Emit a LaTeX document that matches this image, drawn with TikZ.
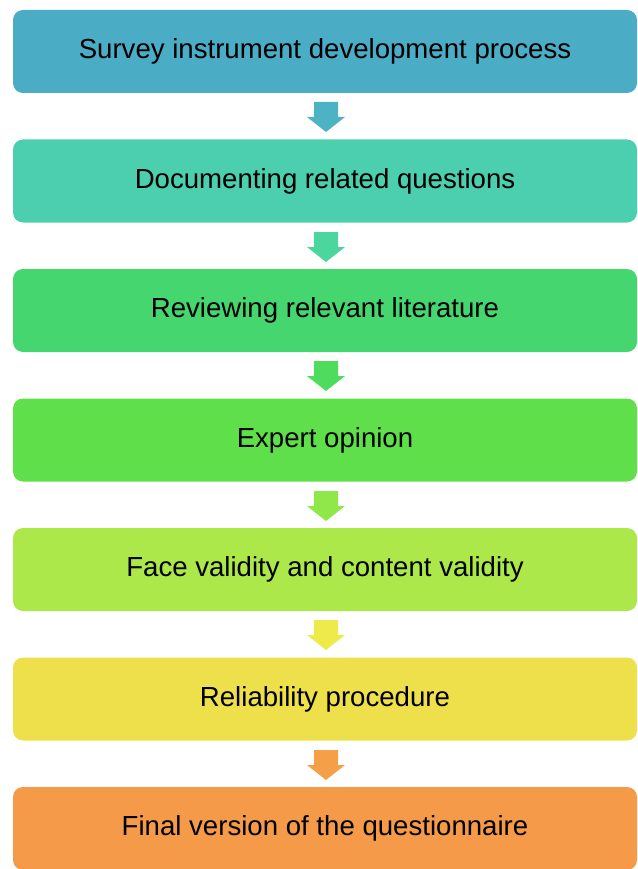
\documentclass[tikz,border=0pt]{standalone}
\usepackage{fontspec}
\setmainfont{Liberation Sans}
\usetikzlibrary{calc}
\definecolor{cA}{HTML}{4BACC6}
\definecolor{cB}{HTML}{4BCFAE}
\definecolor{cC}{HTML}{46D670}
\definecolor{cD}{HTML}{5FE04A}
\definecolor{cE}{HTML}{ADE84A}
\definecolor{cF}{HTML}{EEE04A}
\definecolor{cG}{HTML}{F59A48}
\definecolor{aA}{HTML}{4BB3C4}
\definecolor{aB}{HTML}{4CD69E}
\definecolor{aC}{HTML}{4DDC5C}
\definecolor{aD}{HTML}{8EE84A}
\definecolor{aE}{HTML}{EEEA4A}
\definecolor{aF}{HTML}{F5A048}
\tikzset{
  stepbox/.style={rounded corners=10pt, minimum width=624pt, minimum height=83pt,
    inner sep=0pt, font=\fontsize{27.6}{32}\selectfont, text=black},
}
% block arrow pointing down, with the top of its shaft at (#1)
\newcommand{\downarrowshape}[2]{%
  \fill[#2] ($(#1)+(-12pt,0)$) -- ++(24pt,0) -- ++(0,-15pt) -- ++(7pt,0)
    -- ($(#1)+(0,-30pt)$) -- ($(#1)+(-19pt,-15pt)$) -- ++(7pt,0) -- cycle;}
\begin{document}
\begin{tikzpicture}[x=1pt,y=1pt]
\useasboundingbox (0,0) rectangle (637,-869);
\node[stepbox, fill=cA] (s1) at (325,-51.5) {Survey instrument development process};
\node[stepbox, fill=cB] (s2) at (325,-181) {Documenting related questions};
\node[stepbox, fill=cC] (s3) at (325,-310.5) {Reviewing relevant literature};
\node[stepbox, fill=cD] (s4) at (325,-440) {Expert opinion};
\node[stepbox, fill=cE] (s5) at (325,-569.5) {Face validity and content validity};
\node[stepbox, fill=cF] (s6) at (325,-699) {Reliability procedure};
\node[stepbox, fill=cG] (s7) at (325,-828.5) {Final version of the questionnaire};
\coordinate (a1) at (326,-102);
\coordinate (a2) at (326,-232);
\coordinate (a3) at (326,-361);
\coordinate (a4) at (326,-491);
\coordinate (a5) at (326,-620);
\coordinate (a6) at (326,-750);
\downarrowshape{a1}{aA}
\downarrowshape{a2}{aB}
\downarrowshape{a3}{aC}
\downarrowshape{a4}{aD}
\downarrowshape{a5}{aE}
\downarrowshape{a6}{aF}
\end{tikzpicture}
\end{document}
